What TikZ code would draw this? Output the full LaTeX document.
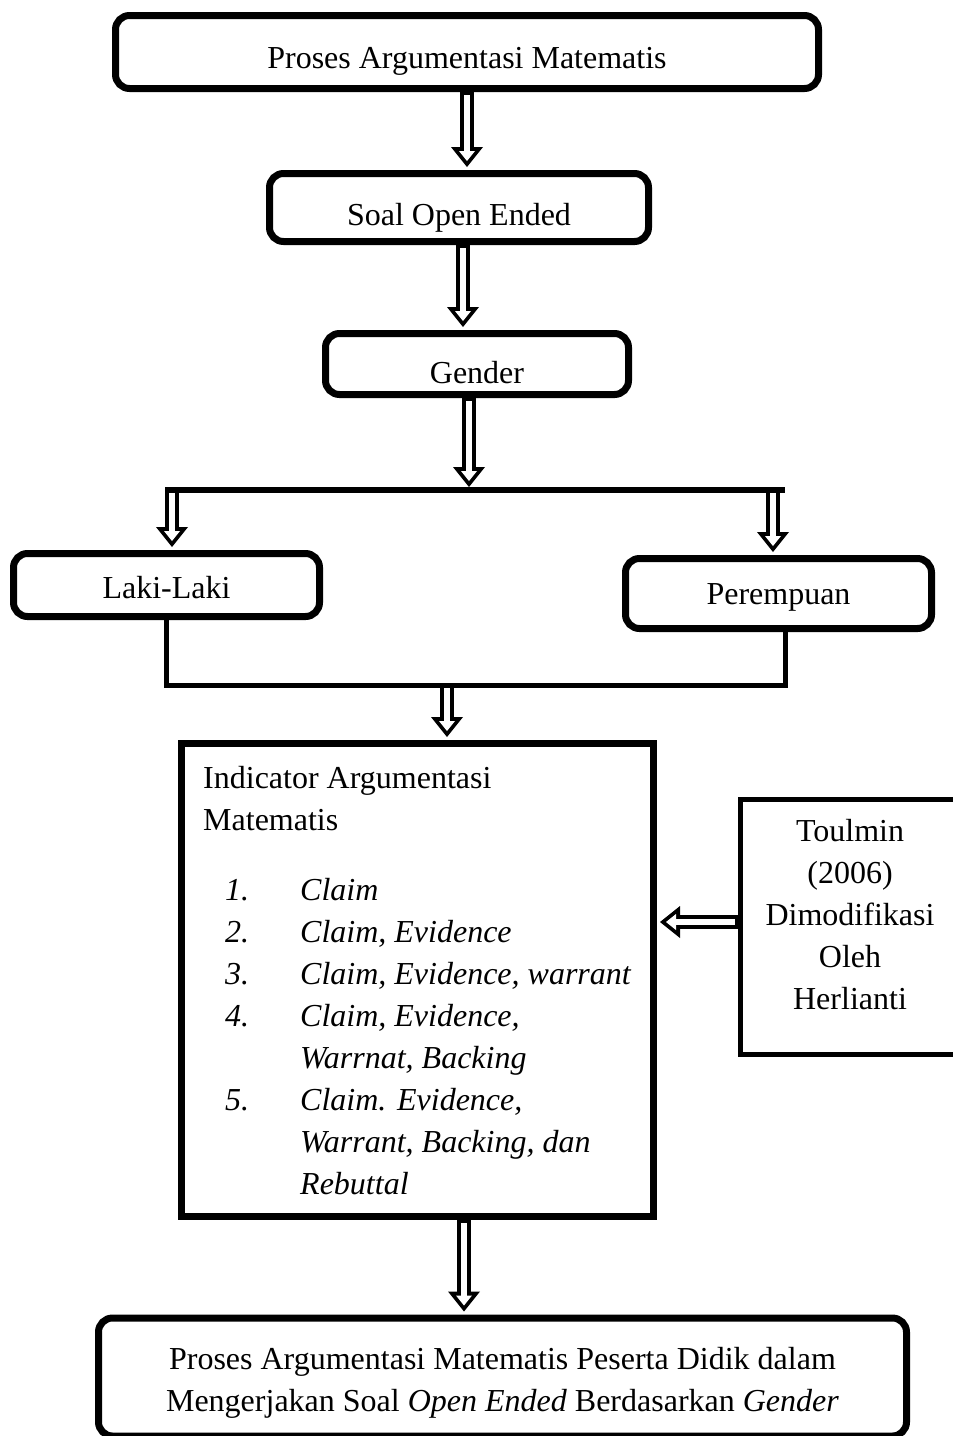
\documentclass[tikz,border=0pt]{standalone}
\usepackage{fontspec}
\setmainfont{Liberation Serif}
\usetikzlibrary{arrows.meta}
\tikzset{
x=1pt, y=-1pt, % one unit is one pixel, counted from the top
every node/.style={font=\fontsize{32}{42}\selectfont}, % text size of the whole chart
rbox/.style={draw, line width=7pt, rounded corners=14pt, align=center, inner sep=0pt}, % rounded boxes
sbox/.style={draw, line width=7pt, inner sep=0pt}, % square boxes
lowered/.style={text depth=0pt, text height=#1}, % puts the baseline a little under the middle
hollow/.style={draw=white, line width=6pt, shorten <=3pt, shorten >=9pt,
  -{Triangle[length=10pt, width=16pt, line width=0pt]},
  preaction={draw=black, line width=14pt, shorten <=0pt, shorten >=3pt,
  -{Triangle[length=20pt, width=32pt, line width=0pt]}}}, % white arrows with black outline
link/.style={line width=6pt}, % plain joining lines
}
\begin{document}
\begin{tikzpicture}
        \useasboundingbox (0,0) rectangle (953,1436);
        \clip (0,0) rectangle (953,1436);

        \node[rbox, lowered=32pt, minimum width=703, minimum height=73] (proses) at (467,52) {Proses Argumentasi Matematis};
        \node[rbox, lowered=35pt, minimum width=379, minimum height=68] (soal) at (459,207.5) {Soal Open Ended};
        \node[rbox, lowered=38pt, minimum width=303, minimum height=61] (gender) at (477,364) {Gender};
        \node[rbox, lowered=27pt, minimum width=306, minimum height=63] (laki) at (166.5,585) {Laki-Laki};
        \node[rbox, lowered=22pt, minimum width=306, minimum height=70] (perempuan) at (778.5,593.5) {Perempuan};
        \node[sbox, minimum width=472, minimum height=473] (indikator) at (417.5,980) {};
        \node[anchor=north west, align=left, inner sep=0pt] (indtext) at (203,766) {Indicator Argumentasi\\
        Matematis\\[28pt]
        \hspace*{22pt}\makebox[75pt][l]{\textit{1.}}\textit{Claim}\\
        \hspace*{22pt}\makebox[75pt][l]{\textit{2.}}\textit{Claim, Evidence}\\
        \hspace*{22pt}\makebox[75pt][l]{\textit{3.}}\textit{Claim, Evidence, warrant}\\
        \hspace*{22pt}\makebox[75pt][l]{\textit{4.}}\textit{Claim, Evidence,}\\
        \hspace*{97pt}\textit{Warrnat, Backing}\\
        \hspace*{22pt}\makebox[75pt][l]{\textit{5.}}\textit{Claim. Evidence,}\\
        \hspace*{97pt}\textit{Warrant, Backing, dan}\\
        \hspace*{97pt}\textit{Rebuttal}};
        \node[sbox, line width=5pt, minimum width=220, minimum height=255] (toulmin) at (850,927) {};
        \node[align=center, inner sep=0pt] (toultext) at (850,915) {Toulmin\\(2006)\\Dimodifikasi\\Oleh\\Herlianti};
        \node[rbox, minimum width=808, minimum height=118] (hasil) at (502.5,1377) {};
        \node[align=center, inner sep=0pt] (hasiltext) at (502.5,1383) {Proses Argumentasi Matematis Peserta Didik dalam\\
        Mengerjakan Soal \textit{Open Ended} Berdasarkan \textit{Gender}};

        \coordinate (splitL) at (165,490);
        \coordinate (splitR) at (785,490);
        \coordinate (joinR) at (785,685);
        \coordinate (joinM) at (447,685);

        % split and join
        \draw[link] (splitL) -- (splitR);
        \draw[link, line width=5pt] (laki.south) |- (joinR) -- (joinR |- perempuan.south);

        % arrows
        \draw[hollow] (proses.south) -- (proses.south |- soal.north);
        \draw[hollow] ([xshift=4pt]soal.south) -- ([xshift=4pt]soal.south |- gender.north);
        \draw[hollow] ([xshift=-8pt]gender.south) -- ([xshift=-8pt]gender.south |- splitL);
        \draw[hollow] ([xshift=7pt]splitL) -- ([xshift=7pt]splitL |- laki.north);
        \draw[hollow] ([xshift=-12pt]splitR) -- ([xshift=-12pt]splitR |- perempuan.north);
        \draw[hollow] (joinM) -- (joinM |- indikator.north);
        \draw[hollow] ([yshift=5pt]toulmin.west) -- ([yshift=5pt]toulmin.west -| indikator.east);
        \draw[hollow] ([xshift=46.5pt]indikator.south) -- ([xshift=46.5pt]indikator.south |- hasil.north);
\end{tikzpicture}
\end{document}
